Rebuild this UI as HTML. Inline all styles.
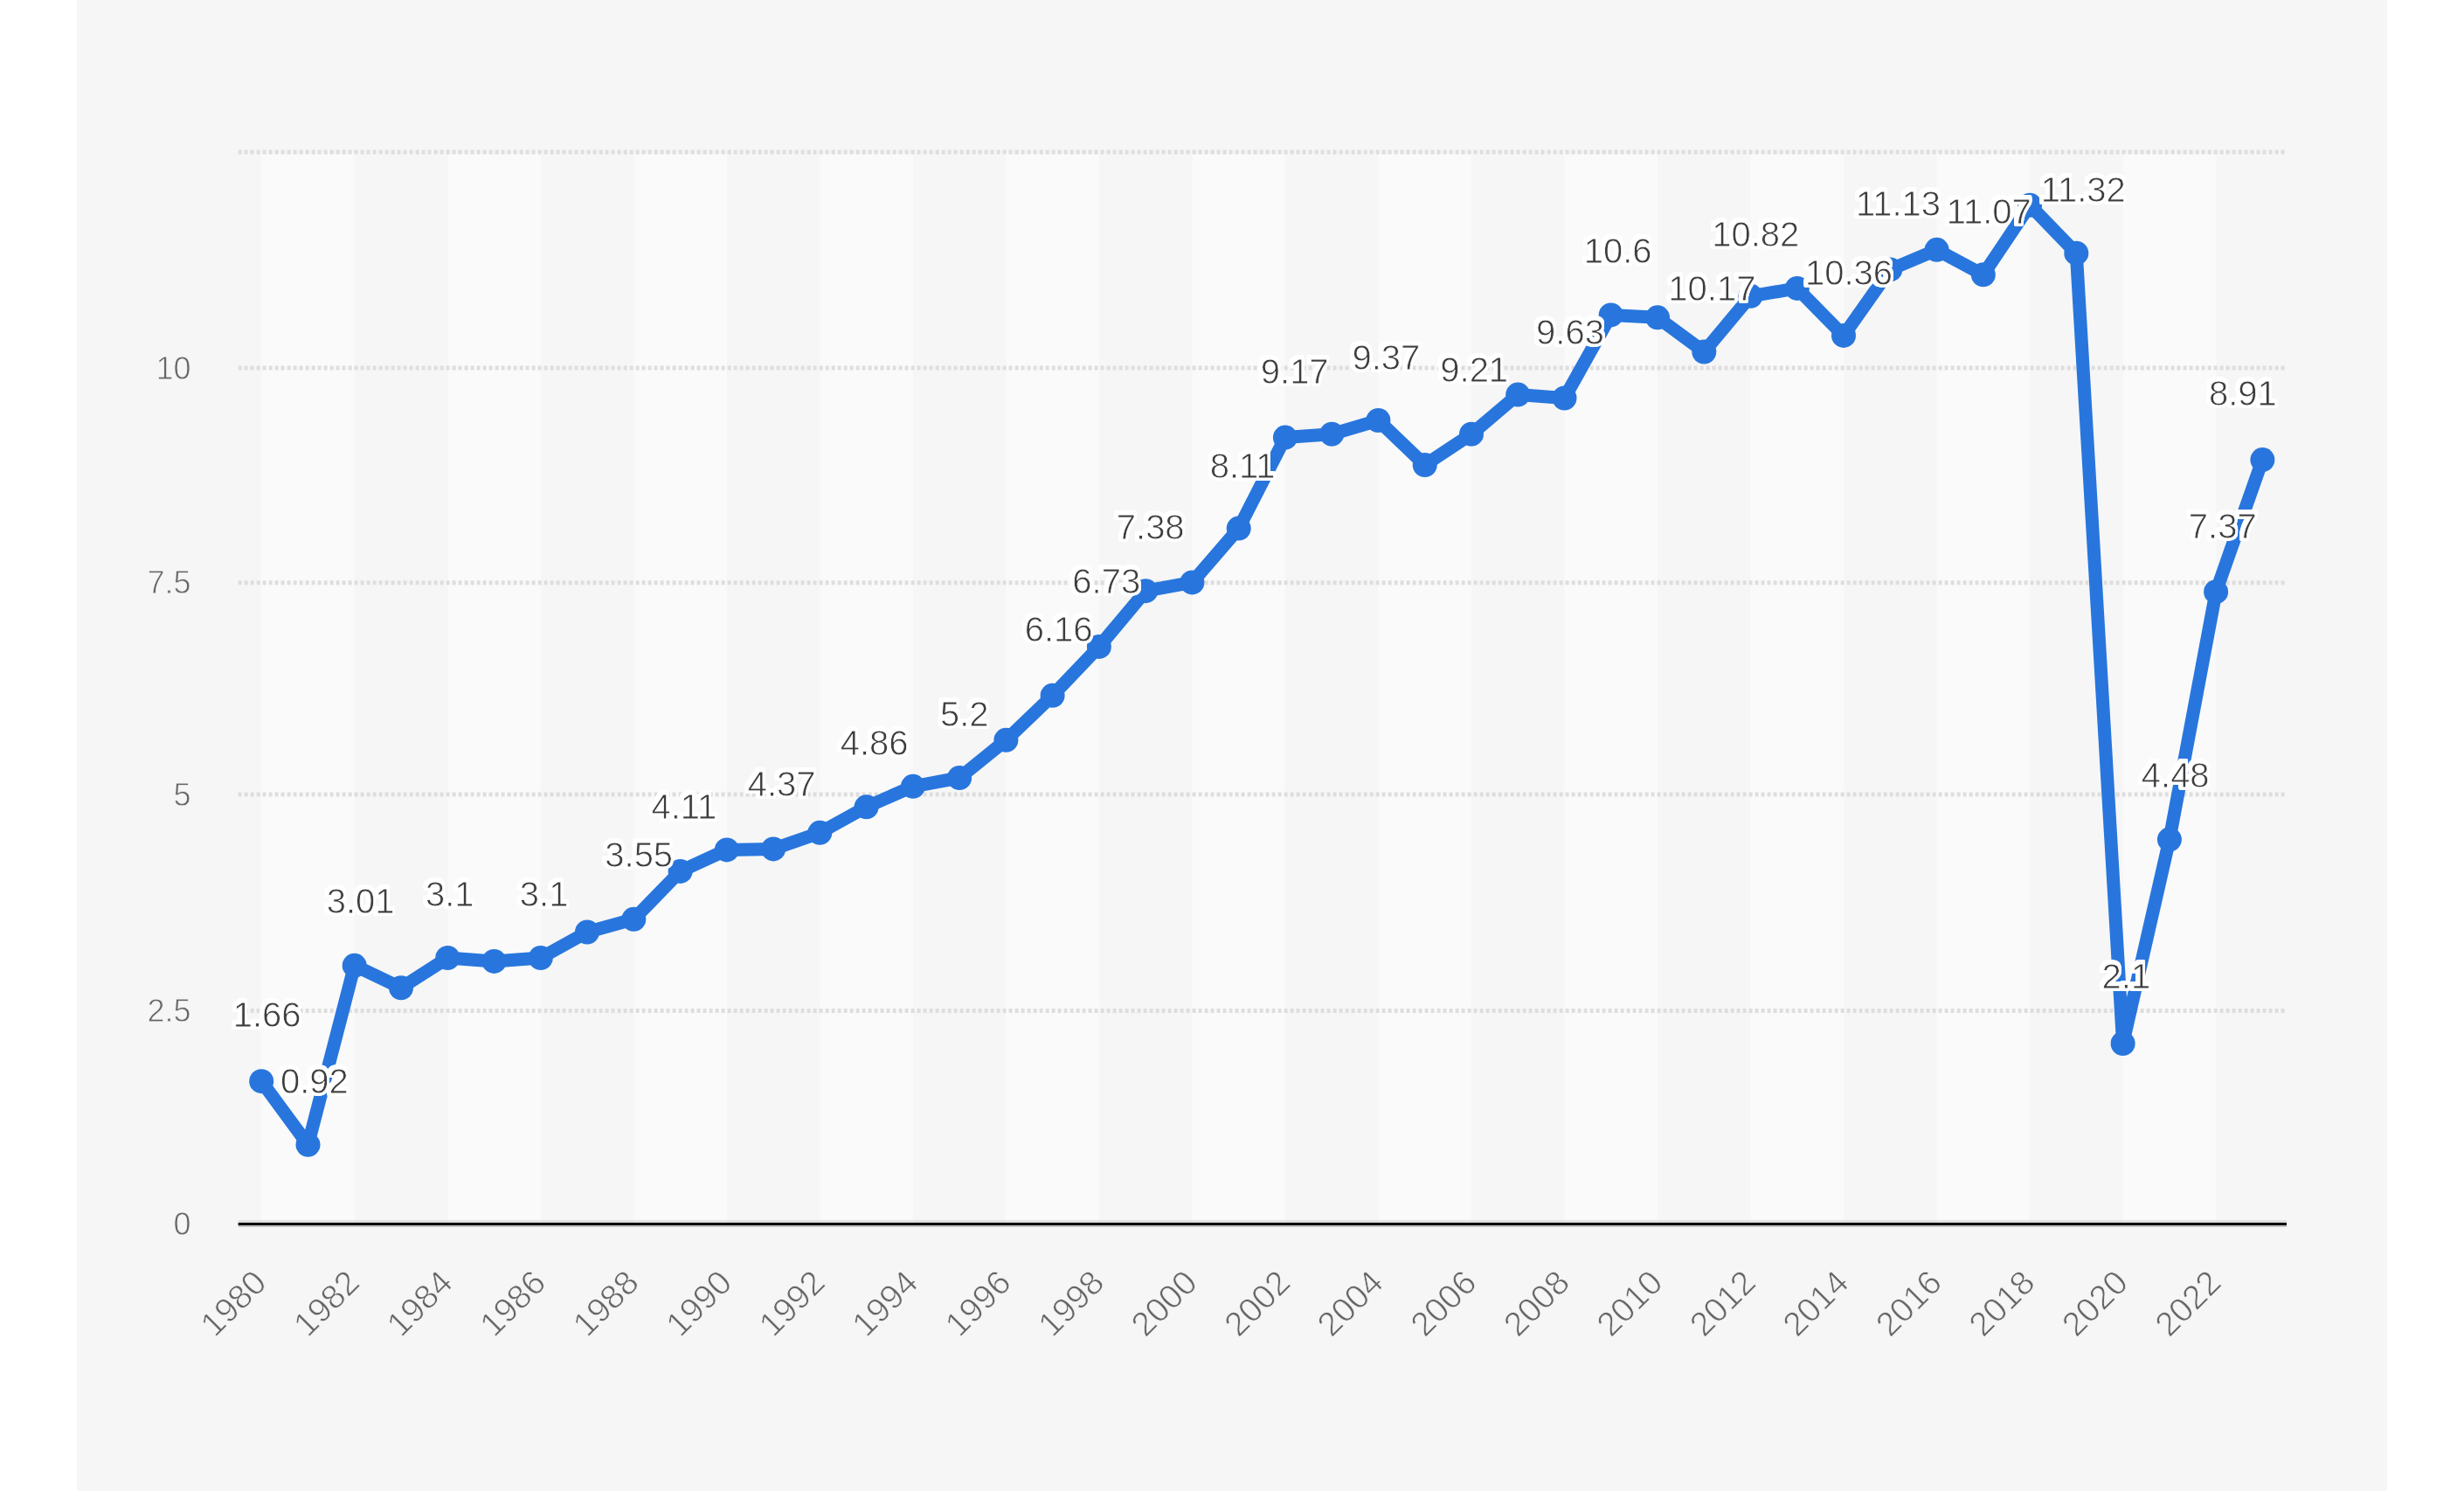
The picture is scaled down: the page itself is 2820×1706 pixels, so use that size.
<!DOCTYPE html><html><head><meta charset="utf-8"><style>
html,body{margin:0;padding:0;background:#fff;}svg{display:block;will-change:transform;}
text{font-family:"Liberation Sans",sans-serif;}
</style></head><body>
<svg width="2820" height="1706" viewBox="0 0 2820 1706">
<rect x="88" y="0" width="2644" height="1706" fill="#f6f6f6"/>
<rect x="299.2" y="176" width="106.5" height="1223" fill="#fafafa"/>
<rect x="512.3" y="176" width="106.5" height="1223" fill="#fafafa"/>
<rect x="725.3" y="176" width="106.5" height="1223" fill="#fafafa"/>
<rect x="938.3" y="176" width="106.5" height="1223" fill="#fafafa"/>
<rect x="1151.4" y="176" width="106.5" height="1223" fill="#fafafa"/>
<rect x="1364.4" y="176" width="106.5" height="1223" fill="#fafafa"/>
<rect x="1577.4" y="176" width="106.5" height="1223" fill="#fafafa"/>
<rect x="1790.5" y="176" width="106.5" height="1223" fill="#fafafa"/>
<rect x="2003.5" y="176" width="106.5" height="1223" fill="#fafafa"/>
<rect x="2216.6" y="176" width="106.5" height="1223" fill="#fafafa"/>
<rect x="2429.6" y="176" width="106.5" height="1223" fill="#fafafa"/>
<line x1="272.6" y1="174" x2="2616" y2="174" stroke="#dedede" stroke-width="5" stroke-dasharray="4 3"/>
<line x1="272.6" y1="421" x2="2616" y2="421" stroke="#dedede" stroke-width="5" stroke-dasharray="4 3"/>
<line x1="272.6" y1="666.7" x2="2616" y2="666.7" stroke="#dedede" stroke-width="5" stroke-dasharray="4 3"/>
<line x1="272.6" y1="909" x2="2616" y2="909" stroke="#dedede" stroke-width="5" stroke-dasharray="4 3"/>
<line x1="272.6" y1="1156.6" x2="2616" y2="1156.6" stroke="#dedede" stroke-width="5" stroke-dasharray="4 3"/>
<rect x="272.6" y="1396.3" width="2344.4" height="1.6" fill="#dcdcdc"/>
<rect x="272.6" y="1402" width="2344.4" height="2" fill="#c2c2c2"/>
<rect x="272.6" y="1398.9" width="2344.4" height="3.1" fill="#000"/>
<text x="218.5" y="1412.6" font-size="36" fill="#666666" stroke="#f6f6f6" stroke-width="0.8" text-anchor="end">0</text>
<text x="218.5" y="1169.2" font-size="36" fill="#666666" stroke="#f6f6f6" stroke-width="0.8" text-anchor="end">2.5</text>
<text x="218.5" y="921.6" font-size="36" fill="#666666" stroke="#f6f6f6" stroke-width="0.8" text-anchor="end">5</text>
<text x="218.5" y="679.3" font-size="36" fill="#666666" stroke="#f6f6f6" stroke-width="0.8" text-anchor="end">7.5</text>
<text x="218.5" y="433.6" font-size="36" fill="#666666" stroke="#f6f6f6" stroke-width="0.8" text-anchor="end">10</text>
<text x="307.2" y="1470" font-size="39" fill="#666666" stroke="#f6f6f6" stroke-width="0.8" text-anchor="end" transform="rotate(-45 307.2 1470)">1980</text>
<text x="413.7" y="1470" font-size="39" fill="#666666" stroke="#f6f6f6" stroke-width="0.8" text-anchor="end" transform="rotate(-45 413.7 1470)">1982</text>
<text x="520.3" y="1470" font-size="39" fill="#666666" stroke="#f6f6f6" stroke-width="0.8" text-anchor="end" transform="rotate(-45 520.3 1470)">1984</text>
<text x="626.8" y="1470" font-size="39" fill="#666666" stroke="#f6f6f6" stroke-width="0.8" text-anchor="end" transform="rotate(-45 626.8 1470)">1986</text>
<text x="733.3" y="1470" font-size="39" fill="#666666" stroke="#f6f6f6" stroke-width="0.8" text-anchor="end" transform="rotate(-45 733.3 1470)">1988</text>
<text x="839.8" y="1470" font-size="39" fill="#666666" stroke="#f6f6f6" stroke-width="0.8" text-anchor="end" transform="rotate(-45 839.8 1470)">1990</text>
<text x="946.3" y="1470" font-size="39" fill="#666666" stroke="#f6f6f6" stroke-width="0.8" text-anchor="end" transform="rotate(-45 946.3 1470)">1992</text>
<text x="1052.9" y="1470" font-size="39" fill="#666666" stroke="#f6f6f6" stroke-width="0.8" text-anchor="end" transform="rotate(-45 1052.9 1470)">1994</text>
<text x="1159.4" y="1470" font-size="39" fill="#666666" stroke="#f6f6f6" stroke-width="0.8" text-anchor="end" transform="rotate(-45 1159.4 1470)">1996</text>
<text x="1265.9" y="1470" font-size="39" fill="#666666" stroke="#f6f6f6" stroke-width="0.8" text-anchor="end" transform="rotate(-45 1265.9 1470)">1998</text>
<text x="1372.4" y="1470" font-size="39" fill="#666666" stroke="#f6f6f6" stroke-width="0.8" text-anchor="end" transform="rotate(-45 1372.4 1470)">2000</text>
<text x="1478.9" y="1470" font-size="39" fill="#666666" stroke="#f6f6f6" stroke-width="0.8" text-anchor="end" transform="rotate(-45 1478.9 1470)">2002</text>
<text x="1585.4" y="1470" font-size="39" fill="#666666" stroke="#f6f6f6" stroke-width="0.8" text-anchor="end" transform="rotate(-45 1585.4 1470)">2004</text>
<text x="1692.0" y="1470" font-size="39" fill="#666666" stroke="#f6f6f6" stroke-width="0.8" text-anchor="end" transform="rotate(-45 1692.0 1470)">2006</text>
<text x="1798.5" y="1470" font-size="39" fill="#666666" stroke="#f6f6f6" stroke-width="0.8" text-anchor="end" transform="rotate(-45 1798.5 1470)">2008</text>
<text x="1905.0" y="1470" font-size="39" fill="#666666" stroke="#f6f6f6" stroke-width="0.8" text-anchor="end" transform="rotate(-45 1905.0 1470)">2010</text>
<text x="2011.5" y="1470" font-size="39" fill="#666666" stroke="#f6f6f6" stroke-width="0.8" text-anchor="end" transform="rotate(-45 2011.5 1470)">2012</text>
<text x="2118.0" y="1470" font-size="39" fill="#666666" stroke="#f6f6f6" stroke-width="0.8" text-anchor="end" transform="rotate(-45 2118.0 1470)">2014</text>
<text x="2224.6" y="1470" font-size="39" fill="#666666" stroke="#f6f6f6" stroke-width="0.8" text-anchor="end" transform="rotate(-45 2224.6 1470)">2016</text>
<text x="2331.1" y="1470" font-size="39" fill="#666666" stroke="#f6f6f6" stroke-width="0.8" text-anchor="end" transform="rotate(-45 2331.1 1470)">2018</text>
<text x="2437.6" y="1470" font-size="39" fill="#666666" stroke="#f6f6f6" stroke-width="0.8" text-anchor="end" transform="rotate(-45 2437.6 1470)">2020</text>
<text x="2544.1" y="1470" font-size="39" fill="#666666" stroke="#f6f6f6" stroke-width="0.8" text-anchor="end" transform="rotate(-45 2544.1 1470)">2022</text>
<polyline points="299.2,1237.2 352.5,1309.8 405.7,1104.8 459.0,1130.3 512.3,1096.0 565.5,1099.9 618.8,1096.0 672.0,1066.5 725.3,1051.8 778.6,996.9 831.8,972.4 885.1,971.4 938.3,952.8 991.6,923.3 1044.9,899.8 1098.1,890.0 1151.4,846.8 1204.6,795.8 1257.9,739.9 1311.2,676.2 1364.4,666.4 1417.7,604.6 1470.9,500.6 1524.2,496.7 1577.4,481.0 1630.7,532.0 1684.0,496.7 1737.2,451.6 1790.5,455.5 1843.7,360.4 1897.0,363.3 1950.3,402.5 2003.5,338.8 2056.8,329.9 2110.0,383.9 2163.3,308.4 2216.6,285.8 2269.8,314.3 2323.1,234.8 2376.3,289.7 2429.6,1194.0 2482.9,960.6 2536.1,677.2 2589.4,526.1" fill="none" stroke="#2876dd" stroke-width="15" stroke-linejoin="round" stroke-linecap="round"/>
<circle cx="299.2" cy="1237.2" r="14" fill="#2876dd"/>
<circle cx="352.5" cy="1309.8" r="14" fill="#2876dd"/>
<circle cx="405.7" cy="1104.8" r="14" fill="#2876dd"/>
<circle cx="459.0" cy="1130.3" r="14" fill="#2876dd"/>
<circle cx="512.3" cy="1096.0" r="14" fill="#2876dd"/>
<circle cx="565.5" cy="1099.9" r="14" fill="#2876dd"/>
<circle cx="618.8" cy="1096.0" r="14" fill="#2876dd"/>
<circle cx="672.0" cy="1066.5" r="14" fill="#2876dd"/>
<circle cx="725.3" cy="1051.8" r="14" fill="#2876dd"/>
<circle cx="778.6" cy="996.9" r="14" fill="#2876dd"/>
<circle cx="831.8" cy="972.4" r="14" fill="#2876dd"/>
<circle cx="885.1" cy="971.4" r="14" fill="#2876dd"/>
<circle cx="938.3" cy="952.8" r="14" fill="#2876dd"/>
<circle cx="991.6" cy="923.3" r="14" fill="#2876dd"/>
<circle cx="1044.9" cy="899.8" r="14" fill="#2876dd"/>
<circle cx="1098.1" cy="890.0" r="14" fill="#2876dd"/>
<circle cx="1151.4" cy="846.8" r="14" fill="#2876dd"/>
<circle cx="1204.6" cy="795.8" r="14" fill="#2876dd"/>
<circle cx="1257.9" cy="739.9" r="14" fill="#2876dd"/>
<circle cx="1311.2" cy="676.2" r="14" fill="#2876dd"/>
<circle cx="1364.4" cy="666.4" r="14" fill="#2876dd"/>
<circle cx="1417.7" cy="604.6" r="14" fill="#2876dd"/>
<circle cx="1470.9" cy="500.6" r="14" fill="#2876dd"/>
<circle cx="1524.2" cy="496.7" r="14" fill="#2876dd"/>
<circle cx="1577.4" cy="481.0" r="14" fill="#2876dd"/>
<circle cx="1630.7" cy="532.0" r="14" fill="#2876dd"/>
<circle cx="1684.0" cy="496.7" r="14" fill="#2876dd"/>
<circle cx="1737.2" cy="451.6" r="14" fill="#2876dd"/>
<circle cx="1790.5" cy="455.5" r="14" fill="#2876dd"/>
<circle cx="1843.7" cy="360.4" r="14" fill="#2876dd"/>
<circle cx="1897.0" cy="363.3" r="14" fill="#2876dd"/>
<circle cx="1950.3" cy="402.5" r="14" fill="#2876dd"/>
<circle cx="2003.5" cy="338.8" r="14" fill="#2876dd"/>
<circle cx="2056.8" cy="329.9" r="14" fill="#2876dd"/>
<circle cx="2110.0" cy="383.9" r="14" fill="#2876dd"/>
<circle cx="2163.3" cy="308.4" r="14" fill="#2876dd"/>
<circle cx="2216.6" cy="285.8" r="14" fill="#2876dd"/>
<circle cx="2269.8" cy="314.3" r="14" fill="#2876dd"/>
<circle cx="2323.1" cy="234.8" r="14" fill="#2876dd"/>
<circle cx="2376.3" cy="289.7" r="14" fill="#2876dd"/>
<circle cx="2429.6" cy="1194.0" r="14" fill="#2876dd"/>
<circle cx="2482.9" cy="960.6" r="14" fill="#2876dd"/>
<circle cx="2536.1" cy="677.2" r="14" fill="#2876dd"/>
<circle cx="2589.4" cy="526.1" r="14" fill="#2876dd"/>
<g style="filter:drop-shadow(1.5px 0 0 #fff) drop-shadow(-1.5px 0 0 #fff) drop-shadow(1.5px 0 0 #fff) drop-shadow(-1.5px 0 0 #fff) drop-shadow(0 1.5px 0 #fff) drop-shadow(0 -1.5px 0 #fff) drop-shadow(0 1.5px 0 #fff) drop-shadow(0 -1.5px 0 #fff)">
<text x="305.6" y="1174.8" font-size="40" fill="#3d3d3d" text-anchor="middle" stroke="#fff" stroke-width="0.8">1.66</text>
<text x="359.9" y="1250.8" font-size="40" fill="#3d3d3d" text-anchor="middle" stroke="#fff" stroke-width="0.8">0.92</text>
<text x="412.6" y="1044.6" font-size="40" fill="#3d3d3d" text-anchor="middle" stroke="#fff" stroke-width="0.8">3.01</text>
<text x="514.8" y="1036.8" font-size="40" fill="#3d3d3d" text-anchor="middle" stroke="#fff" stroke-width="0.8">3.1</text>
<text x="622.6" y="1036.8" font-size="40" fill="#3d3d3d" text-anchor="middle" stroke="#fff" stroke-width="0.8">3.1</text>
<text x="731.2" y="991.8" font-size="40" fill="#3d3d3d" text-anchor="middle" stroke="#fff" stroke-width="0.8">3.55</text>
<text x="782.9" y="936.7" font-size="40" fill="#3d3d3d" text-anchor="middle" stroke="#fff" stroke-width="0.8">4.11</text>
<text x="894.6" y="911.1" font-size="40" fill="#3d3d3d" text-anchor="middle" stroke="#fff" stroke-width="0.8">4.37</text>
<text x="1000.6" y="863.7" font-size="40" fill="#3d3d3d" text-anchor="middle" stroke="#fff" stroke-width="0.8">4.86</text>
<text x="1103.8" y="831.3" font-size="40" fill="#3d3d3d" text-anchor="middle" stroke="#fff" stroke-width="0.8">5.2</text>
<text x="1211.6" y="733.6" font-size="40" fill="#3d3d3d" text-anchor="middle" stroke="#fff" stroke-width="0.8">6.16</text>
<text x="1266.3" y="678.8" font-size="40" fill="#3d3d3d" text-anchor="middle" stroke="#fff" stroke-width="0.8">6.73</text>
<text x="1316.7" y="616.7" font-size="40" fill="#3d3d3d" text-anchor="middle" stroke="#fff" stroke-width="0.8">7.38</text>
<text x="1422.1" y="547.4" font-size="40" fill="#3d3d3d" text-anchor="middle" stroke="#fff" stroke-width="0.8">8.11</text>
<text x="1481.7" y="439.0" font-size="40" fill="#3d3d3d" text-anchor="middle" stroke="#fff" stroke-width="0.8">9.17</text>
<text x="1586.4" y="423.2" font-size="40" fill="#3d3d3d" text-anchor="middle" stroke="#fff" stroke-width="0.8">9.37</text>
<text x="1687.2" y="436.8" font-size="40" fill="#3d3d3d" text-anchor="middle" stroke="#fff" stroke-width="0.8">9.21</text>
<text x="1797.0" y="394.3" font-size="40" fill="#3d3d3d" text-anchor="middle" stroke="#fff" stroke-width="0.8">9.63</text>
<text x="1851.7" y="300.5" font-size="40" fill="#3d3d3d" text-anchor="middle" stroke="#fff" stroke-width="0.8">10.6</text>
<text x="1959.4" y="344.3" font-size="40" fill="#3d3d3d" text-anchor="middle" stroke="#fff" stroke-width="0.8">10.17</text>
<text x="2009.3" y="281.5" font-size="40" fill="#3d3d3d" text-anchor="middle" stroke="#fff" stroke-width="0.8">10.82</text>
<text x="2116.0" y="325.8" font-size="40" fill="#3d3d3d" text-anchor="middle" stroke="#fff" stroke-width="0.8">10.36</text>
<text x="2172.5" y="247.1" font-size="40" fill="#3d3d3d" text-anchor="middle" stroke="#fff" stroke-width="0.8">11.13</text>
<text x="2276.3" y="255.5" font-size="40" fill="#3d3d3d" text-anchor="middle" stroke="#fff" stroke-width="0.8">11.07</text>
<text x="2384.3" y="231.0" font-size="40" fill="#3d3d3d" text-anchor="middle" stroke="#fff" stroke-width="0.8">11.32</text>
<text x="2433.4" y="1131.1" font-size="40" fill="#3d3d3d" text-anchor="middle" stroke="#fff" stroke-width="0.8">2.1</text>
<text x="2489.7" y="900.9" font-size="40" fill="#3d3d3d" text-anchor="middle" stroke="#fff" stroke-width="0.8">4.48</text>
<text x="2543.8" y="616.3" font-size="40" fill="#3d3d3d" text-anchor="middle" stroke="#fff" stroke-width="0.8">7.37</text>
<text x="2566.9" y="464.3" font-size="40" fill="#3d3d3d" text-anchor="middle" stroke="#fff" stroke-width="0.8">8.91</text>
</g>
</svg></body></html>
